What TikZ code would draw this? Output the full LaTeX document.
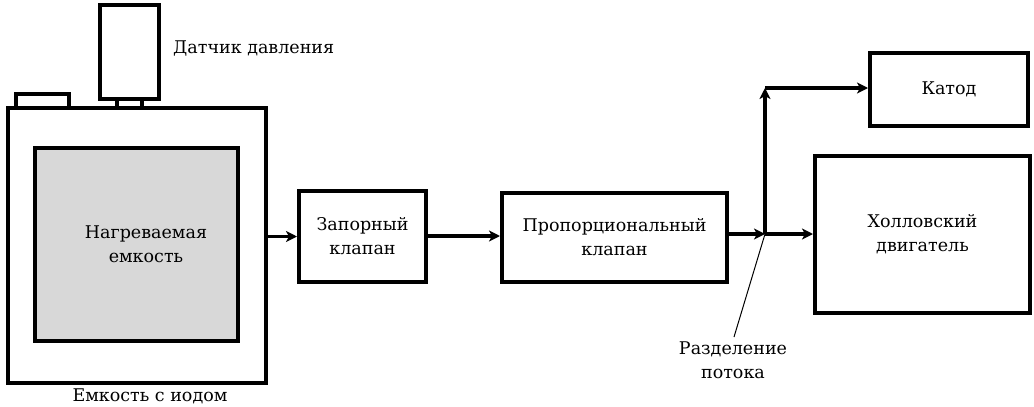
\documentclass[tikz,border=0pt]{standalone}
\usepackage{fontspec}
\setmainfont{DejaVu Serif}
\usetikzlibrary{arrows.meta}
\begin{document}
\begin{tikzpicture}[x=1pt,y=-1pt,
  box/.style={draw=black,line width=4pt,rectangle,inner sep=0pt,align=center,
    font=\fontsize{17.5pt}{24pt}\selectfont},
  lbl/.style={inner sep=0pt,align=center,font=\fontsize{17.5pt}{24pt}\selectfont},
  flow/.style={line width=3.5pt,-{Stealth[length=11pt,width=11pt,inset=3pt]}},
  conn/.style={line width=3.5pt}]
\useasboundingbox (0,0) rectangle (1034,407);
% tank
\node[box,minimum width=258pt,minimum height=275pt] (tank) at (137,245.5) {};
\node[box,fill={rgb,255:red,216;green,216;blue,216},minimum width=203pt,minimum height=193pt] (heat) at (136.5,244.5) {};
\node[lbl] (heattxt) at (146,244) {Нагреваемая\\емкость};
\node[box,minimum width=59pt,minimum height=94pt] (sensor) at (129.5,52) {};
\node[box,minimum width=25pt,minimum height=9pt] (neck) at (129.5,103.5) {};
\node[box,minimum width=53pt,minimum height=14pt] (lid) at (42.5,101) {};
\node[lbl,anchor=west] (sensortxt) at (173,48) {Датчик давления};
\node[lbl] (tanktxt) at (150,396) {Емкость с иодом};
% valves
\node[box,minimum width=127pt,minimum height=91pt] (v1) at (362.5,236.5) {Запорный\\клапан};
\node[box,minimum width=225pt,minimum height=89pt] (v2) at (614.5,237.5) {Пропорциональный\\клапан};
\node[box,minimum width=158pt,minimum height=73pt] (cath) at (949,89.5) {Катод};
\node[box,minimum width=215pt,minimum height=157pt] (hall) at (922.5,234.5) {Холловский\\двигатель};
\coordinate (split) at (765,234);
\coordinate (corner) at (765,88);
\coordinate (ptr) at (734,337);
\node[lbl] (splittxt) at (733,360) {Разделение\\потока};
% connectors
\draw[flow] (v1.west -| tank.east) -- (v1.west);
\draw[flow] (v1.east |- 0,236) -- (v2.west |- 0,236);
\draw[flow] (v2.east |- split) -- (split);
\draw[flow] (split) -- (split -| hall.west);
\draw[flow] (split) -- (corner);
\draw[flow] (corner) -- (corner -| cath.west);
\draw[line width=1pt] (split) -- (ptr);
\end{tikzpicture}
\end{document}
